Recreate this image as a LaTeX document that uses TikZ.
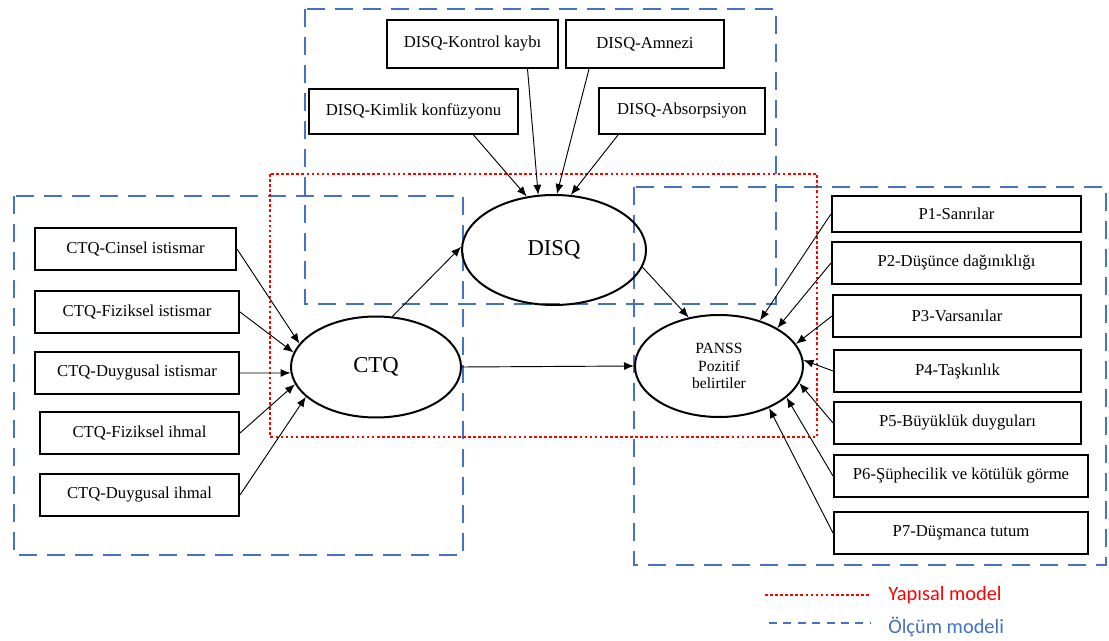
\documentclass[tikz,border=0pt]{standalone}
\usepackage{fontspec}
\setmainfont{Liberation Serif}
\newfontfamily\legendfont{Carlito}
\usetikzlibrary{shapes.geometric,arrows.meta,calc}
\definecolor{mblue}{HTML}{4472C4}
\definecolor{mred}{HTML}{FF0000}
\tikzset{
  itembox/.style={draw=black,line width=1.5pt,rectangle,inner sep=0pt,
    font=\fontsize{12.5}{14}\selectfont},
  latent/.style={draw=black,line width=1.5pt,ellipse,inner sep=0pt},
  conn/.style={line width=0.7pt,-{Latex[length=7.5pt,width=6pt]}},
  measbox/.style={draw=mblue,line width=1.7pt,dash pattern=on 13.5pt off 7.5pt},
  structbox/.style={draw=mred,line width=2pt,dash pattern=on 2pt off 1.8pt},
  legtext/.style={anchor=west,inner sep=0pt,font=\legendfont\fontsize{15.3}{17}\selectfont}
}
\begin{document}
\begin{tikzpicture}[x=0.75pt,y=-0.75pt]
\useasboundingbox (0,0) rectangle (1109,641);
\fill[white] (0,0) rectangle (1109,641);

% measurement model boxes (blue dashed)
\draw[measbox] (305,9) rectangle (776,304);
\draw[measbox] (14,196) rectangle (463,555);
\draw[measbox] (634,187) rectangle (1106,565);
% structural model box (red dotted)
\draw[structbox] (270,174) rectangle (817,437);

% latent variables
\node[latent,minimum width=127.5pt,minimum height=75.75pt,font=\fontsize{17}{20}\selectfont] (ctq) at (376,367) {CTQ};
\node[latent,minimum width=138pt,minimum height=82.5pt,font=\fontsize{17}{20}\selectfont] (disq) at (554,250) {DISQ};
\node[latent,minimum width=126pt,minimum height=76.5pt,align=center,font=\fontsize{11.7}{13}\selectfont] (panss) at (719,366) {PANSS\\Pozitif\\belirtiler};

% CTQ indicators
\node[itembox,minimum width=150.75pt,minimum height=31.5pt] (c1) at (135.5,249) {CTQ-Cinsel istismar};
\node[itembox,minimum width=153pt,minimum height=31.5pt] (c2) at (137,312) {CTQ-Fiziksel istismar};
\node[itembox,minimum width=153pt,minimum height=31.5pt] (c3) at (137,373) {CTQ-Duygusal istismar};
\node[itembox,minimum width=149.25pt,minimum height=31.5pt] (c4) at (139.5,433) {CTQ-Fiziksel ihmal};
\node[itembox,minimum width=149.25pt,minimum height=31.5pt] (c5) at (139.5,495) {CTQ-Duygusal ihmal};

% DISQ indicators
\node[itembox,minimum width=128.25pt,minimum height=36pt] (d1) at (472.5,44) {DISQ-Kontrol kaybı};
\node[itembox,minimum width=118.5pt,minimum height=36pt] (d2) at (645,44) {DISQ-Amnezi};
\node[itembox,minimum width=156.75pt,minimum height=33.75pt] (d3) at (413.5,111.5) {DISQ-Kimlik konfüzyonu};
\node[itembox,minimum width=124.5pt,minimum height=34.5pt] (d4) at (682,111) {DISQ-Absorpsiyon};

% PANSS indicators
\node[itembox,minimum width=186.75pt,minimum height=27pt] (p1) at (956.5,214) {P1-Sanrılar};
\node[itembox,minimum width=186.75pt,minimum height=31.5pt] (p2) at (956.5,263) {P2-Düşünce dağınıklığı};
\node[itembox,minimum width=186pt,minimum height=31.5pt] (p3) at (957,316) {P3-Varsanılar};
\node[itembox,minimum width=185.25pt,minimum height=31.5pt] (p4) at (957.5,371) {P4-Taşkınlık};
\node[itembox,minimum width=185.25pt,minimum height=31.5pt] (p5) at (957.5,423) {P5-Büyüklük duyguları};
\node[itembox,minimum width=190.5pt,minimum height=31.5pt] (p6) at (961,476) {P6-Şüphecilik ve kötülük görme};
\node[itembox,minimum width=190.5pt,minimum height=31.5pt] (p7) at (961,533) {P7-Düşmanca tutum};

% CTQ indicator arrows
\draw[conn] (c1.east) -- (ctq.163);
\draw[conn] (c2.east) -- (ctq.170);
\draw[conn] (c3.east) -- (ctq.184);
\draw[conn] (c4.east) -- (ctq.192);
\draw[conn] (c5.east) -- (ctq.203);

% DISQ indicator arrows
\draw[conn] ($(d3.south)+(60,0)$) -- (disq.117);
\draw[conn] ($(d1.south)+(55,0)$) -- (disq.106);
\draw[conn] ($(d2.south)+(-56,0)$) -- (disq.87);
\draw[conn] ($(d4.south)+(-64,0)$) -- (disq.73);

% PANSS indicator arrows
\draw[conn] (p1.west) -- (panss.48);
\draw[conn] (p2.west) -- (panss.33);
\draw[conn] (p3.west) -- (panss.16);
\draw[conn] (p4.west) -- (panss.4);
\draw[conn] (p5.west) -- (panss.-12);
\draw[conn] (p6.west) -- (panss.-25);
\draw[conn] (p7.west) -- (panss.-40);

% structural paths
\draw[conn] (ctq.72) -- (disq.178);
\draw[conn] (ctq.east) -- (panss.west);
\draw[conn] (disq.-11) -- (panss.122);

% legend
\coordinate (lr1) at (765,595);
\coordinate (lr2) at (870,595);
\coordinate (lb1) at (769,623);
\coordinate (lb2) at (870,623);
\draw[mred,line width=2pt,dash pattern=on 2pt off 1.8pt] (lr1) -- (lr2);
\draw[mblue,line width=1.7pt,dash pattern=on 6pt off 4.8pt] (lb1) -- (lb2);
\node[legtext,text=mred] (ly) at (888,595) {Yapısal model};
\node[legtext,text=mblue] (lo) at (888,627) {Ölçüm modeli};
\end{tikzpicture}
\end{document}
